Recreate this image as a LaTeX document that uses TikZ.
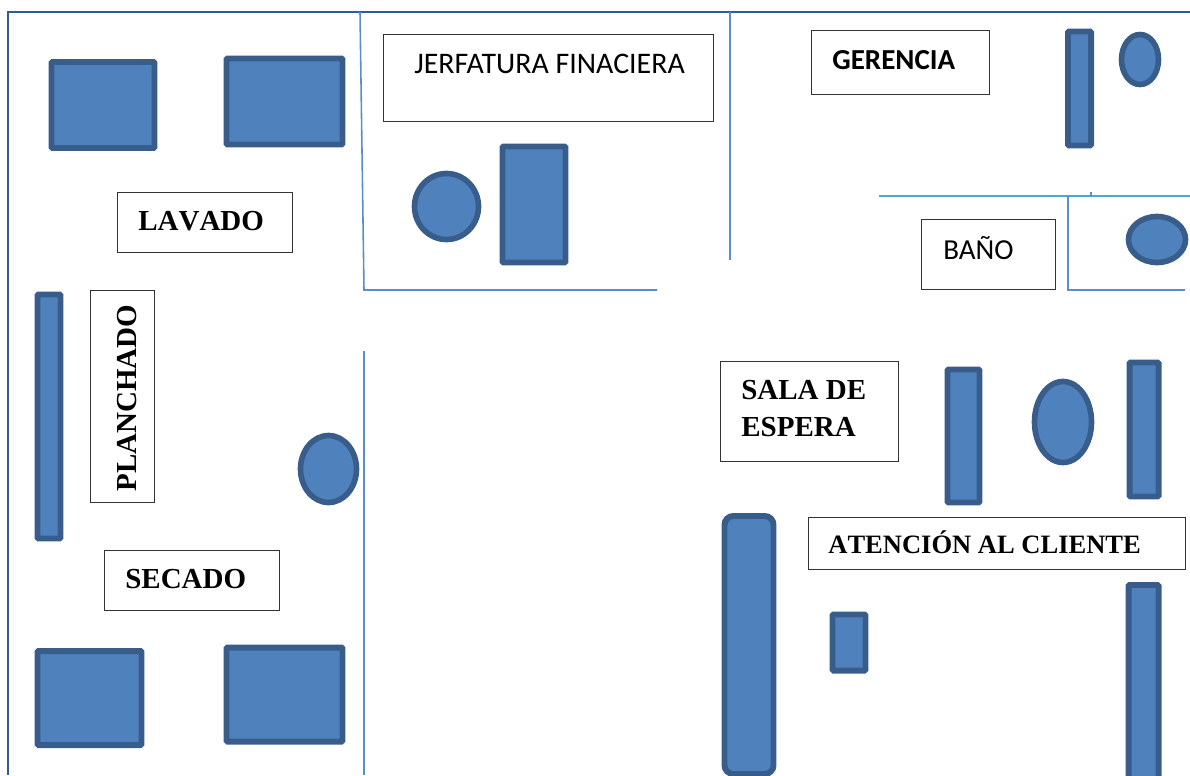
\documentclass[tikz,border=0pt]{standalone}
\usepackage{fontspec}
\setmainfont[Kerning=Off]{Liberation Serif}
\newfontfamily\califont{Carlito}
\definecolor{relleno}{HTML}{4F81BD}
\definecolor{borde}{HTML}{385D8A}
\definecolor{muro}{HTML}{2F5C96}
\definecolor{pared}{HTML}{5B8DC8}
\definecolor{paredb}{HTML}{4BACC6}
\tikzset{
  tam/.style 2 args = {minimum width=#1*0.02cm, minimum height=#2*0.02cm},
  mesa/.style = {draw=borde, fill=relleno, line width=3.4pt, rounded corners=0.6pt, inner sep=0pt},
  silla/.style = {draw=borde, fill=relleno, line width=3.2pt, ellipse, inner sep=0pt},
  caja/.style = {draw=black!80, fill=white, line width=0.6pt, inner sep=0pt},
  titulo/.style = {font=\fontsize{16.5}{20}\selectfont\bfseries, anchor=west, inner sep=0pt, align=left},
  rotulo/.style = {font=\califont\fontsize{16.5}{20}\selectfont, anchor=west, inner sep=0pt}
}
\usetikzlibrary{shapes.geometric}
\begin{document}
\begin{tikzpicture}[x=0.02cm, y=-0.02cm]
  \useasboundingbox (0,0) rectangle (1190,775);
  % walls
  \draw[muro, line width=1.1pt] (8,775) -- (8,12) -- (1190,12);
  \draw[pared, line width=0.9pt] (360,12) -- (364,290) -- (657,290);
  \draw[pared, line width=0.9pt] (730,12) -- (730,260);
  \draw[pared, line width=0.9pt] (364,351) -- (364,775);
  \draw[paredb, line width=0.9pt] (879,196) -- (1190,196);
  \draw[pared, line width=0.9pt] (1068,196) -- (1068,290) -- (1185,290);
  \draw[pared, line width=0.6pt] (1091,192) -- (1091,196);
  % lavado
  \node[mesa, tam={103}{86}] (lavadoA) at (103,105) {};
  \node[mesa, tam={116}{86}] (lavadoB) at (284.5,101.5) {};
  \node[caja, tam={175}{60}] (lavado) at (204.7,222.7) {};
  \node[titulo] (lavadoT) at (138,221) {LAVADO};
  % jefatura
  \node[caja, tam={330}{87}] (jefatura) at (548.7,77.7) {};
  \node[rotulo, font=\califont\fontsize{17}{20}\selectfont] (jefaturaT) at (414,64) {JERFATURA FINACIERA};
  \node[silla, tam={64}{66}] (jefaturaS) at (446.5,206.5) {};
  \node[mesa, tam={63}{116}] (jefaturaM) at (534,204.5) {};
  % gerencia
  \node[caja, tam={178}{64}] (gerencia) at (900.7,62.7) {};
  \node[rotulo, font=\califont\fontsize{16.5}{20}\selectfont\bfseries] (gerenciaT) at (832,60) {GERENCIA};
  \node[mesa, tam={23}{114}] (gerenciaM) at (1079.5,88.5) {};
  \node[silla, tam={37}{50}] (gerenciaS) at (1140,59.5) {};
  % bano
  \node[caja, tam={134}{70}] (bano) at (988.7,254.7) {};
  \node[rotulo] (banoT) at (943,248) {BAÑO};
  \node[silla, tam={57}{46}] (banoS) at (1157,239.5) {};
  % planchado
  \node[mesa, tam={23}{244}] (planchadoM) at (49,416.5) {};
  \node[caja, tam={64}{212}] (planchado) at (122.7,396.2) {};
  \node[titulo, rotate=90] (planchadoT) at (127,492) {PLANCHADO};
  \node[silla, tam={56}{67}] (planchadoS) at (328.5,469) {};
  % secado
  \node[caja, tam={175}{60}] (secado) at (191.7,580.7) {};
  \node[titulo] (secadoT) at (125,579) {SECADO};
  \node[mesa, tam={104}{94}] (secadoA) at (89.5,698) {};
  \node[mesa, tam={116}{94}] (secadoB) at (284.5,694.5) {};
  % sala de espera
  \node[caja, tam={178}{100}] (sala) at (809.7,411.7) {};
  \node[titulo] (salaT) at (741,408.5) {SALA DE\\[1.5pt]ESPERA};
  \node[mesa, tam={32}{133}] (salaA) at (963.5,436) {};
  \node[silla, tam={57}{81}] (salaS) at (1063,422) {};
  \node[mesa, tam={29}{134}] (salaB) at (1144,429.5) {};
  % atencion al cliente
  \node[mesa, tam={49}{258}, rounded corners=5pt] (mostrador) at (749,645) {};
  \node[caja, tam={377}{52}] (atencion) at (996.7,543.7) {};
  \node[titulo, font=\fontsize{15.1}{18}\selectfont\bfseries] (atencionT) at (828,542) {ATENCIÓN AL CLIENTE};
  \node[mesa, tam={33}{56}] (caja) at (849,642.5) {};
  \node[mesa, tam={30}{220}] (atencionM) at (1143.5,695) {};
\end{tikzpicture}
\end{document}
